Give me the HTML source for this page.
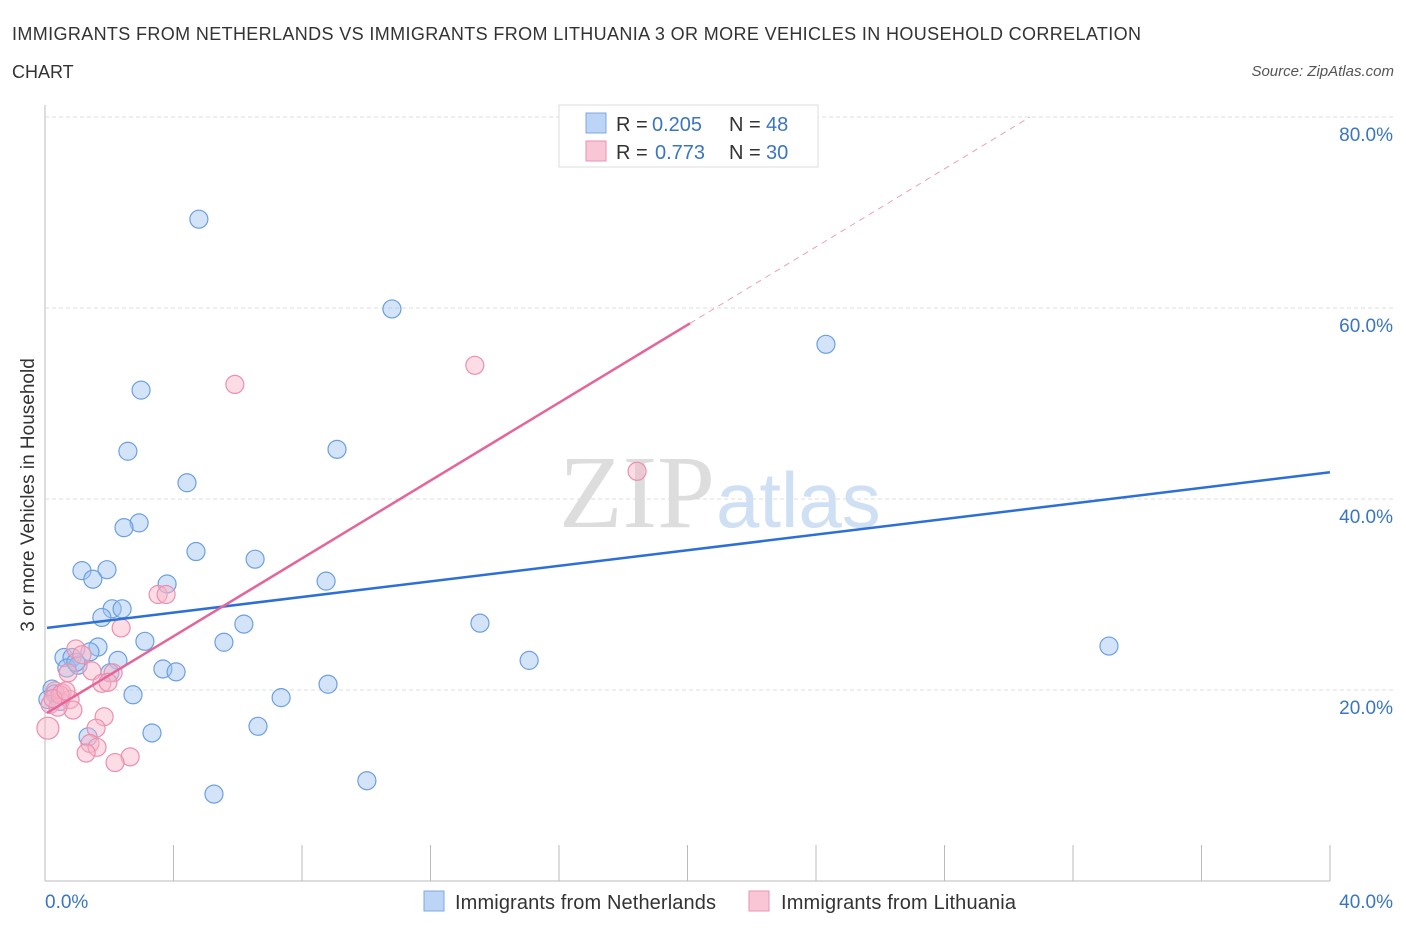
<!DOCTYPE html>
<html><head><meta charset="utf-8"><style>
body{margin:0;background:#fff;font-family:"Liberation Sans",sans-serif;}
svg{display:block}
</style></head><body>
<svg id="c" width="1406" height="930" xmlns="http://www.w3.org/2000/svg">
<text x="12" y="40" font-size="18" fill="#333" textLength="1129">IMMIGRANTS FROM NETHERLANDS VS IMMIGRANTS FROM LITHUANIA 3 OR MORE VEHICLES IN HOUSEHOLD CORRELATION</text>
<text x="12" y="78" font-size="18" fill="#333">CHART</text>
<text x="1394" y="76" font-size="15" fill="#555" font-style="italic" text-anchor="end">Source: ZipAtlas.com</text>
<g id="grid"></g>
<text x="715" y="527" font-size="104" font-family="Liberation Serif,serif" fill="#ddd" text-anchor="end">ZIP</text>
<text x="716" y="527" font-size="78" fill="#cfe0f4">atlas</text>
<g id="pts"></g>
<g id="lines"></g>
<text x="34" y="495" font-size="19" fill="#333" text-anchor="middle" transform="rotate(-90 34 495)">3 or more Vehicles in Household</text>
<text x="45" y="908" font-size="19" fill="#3a75c4">0.0%</text>
<text x="1393" y="908" font-size="19" fill="#3a75c4" text-anchor="end">40.0%</text>
<g>
<rect x="559" y="105" width="259" height="62" fill="#fff" stroke="#ddd"/>
<rect x="586" y="113" width="20" height="20" fill="#bcd4f5" stroke="#7fa8e0"/>
<rect x="586" y="141" width="20" height="20" fill="#f9c6d6" stroke="#ea92b0"/>
<text x="616" y="131" font-size="20" fill="#333">R =</text>
<text x="652" y="131" font-size="20" fill="#3a75c4">0.205</text>
<text x="729" y="131" font-size="20" fill="#333">N =</text>
<text x="766" y="131" font-size="20" fill="#3a75c4">48</text>
<text x="616" y="159" font-size="20" fill="#333">R =</text>
<text x="655" y="159" font-size="20" fill="#3a75c4">0.773</text>
<text x="729" y="159" font-size="20" fill="#333">N =</text>
<text x="766" y="159" font-size="20" fill="#3a75c4">30</text>
</g>
<g>
<rect x="424" y="891" width="20" height="20" fill="#bcd4f5" stroke="#7fa8e0"/>
<text x="455" y="909" font-size="20" fill="#333" textLength="261">Immigrants from Netherlands</text>
<rect x="749" y="891" width="20" height="20" fill="#f9c6d6" stroke="#ea92b0"/>
<text x="781" y="909" font-size="20" fill="#333" textLength="235">Immigrants from Lithuania</text>
</g>
</svg>
<script>
const yTicks=[20,40,60,80];
const yTickLabels=["20.0%","40.0%","60.0%","80.0%"];
const xTicks=[0,4,8,12,16,20,24,28,32,36,40];
const blueX=[4.79,10.80,24.31,2.99,2.58,9.09,4.42,2.93,2.46,4.70,6.54,1.15,1.93,1.49,3.80,8.75,2.09,2.40,1.77,6.19,3.11,5.57,13.54,1.65,1.40,0.59,0.84,2.27,15.07,33.12,3.67,4.08,0.68,1.03,2.02,2.74,7.35,8.81,0.22,0.31,6.63,3.33,1.34,10.02,5.26,0.09,0.47,0.96];
const blueY=[69.3,59.9,56.2,51.4,45.0,45.2,41.7,37.5,37.0,34.5,33.7,32.5,32.6,31.6,31.1,31.4,28.5,28.5,27.6,26.9,25.1,25.0,27.0,24.5,24.0,23.4,23.4,23.1,23.1,24.6,22.2,21.9,22.3,22.6,21.8,19.5,19.2,20.6,20.1,19.6,16.2,15.5,15.1,10.5,9.1,19.0,18.8,22.9];
const pinkX=[5.91,13.38,18.43,3.52,3.77,2.37,0.96,1.15,1.46,2.12,0.72,1.77,1.96,0.31,0.53,0.78,0.16,0.87,0.40,1.84,1.59,0.09,1.40,1.62,1.28,2.65,2.18,0.47,0.25,0.65];
const pinkY=[52.0,54.0,42.9,30.0,30.0,26.5,24.3,23.7,22.0,21.8,21.8,20.7,20.8,19.9,19.7,19.0,18.5,17.9,18.2,17.2,16.0,16.0,14.4,14.0,13.4,13.0,12.4,19.5,19.1,19.9];
const blueLine=[[0,26.5],[40,42.8]];
const pinkLine=[[0,17.6],[20.08,58.4]];
const pinkDash=[[20.08,58.4],[30.66,80.0]];
const X=v=>45+v*32.125, Y=v=>881-v*9.55;
const NS="http://www.w3.org/2000/svg";
function mk(t,a,p){const e=document.createElementNS(NS,t);for(const k in a)e.setAttribute(k,a[k]);p.appendChild(e);return e;}
const grid=document.getElementById('grid');
mk('line',{x1:45,y1:105,x2:45,y2:881,stroke:'#bbb'},grid);
mk('line',{x1:45,y1:881,x2:1330,y2:881,stroke:'#bbb'},grid);
yTicks.forEach((t,i)=>{
 const l=mk('line',{x1:45,y1:Y(t),x2:1394,y2:Y(t),stroke:'#ddd','stroke-dasharray':'4,3'},grid);
 
 
 const tx=mk('text',{x:1393,y:Y(t)+24,'font-size':19,fill:'#3a75c4','text-anchor':'end'},grid);
 tx.textContent=yTickLabels[i];
 
 
});
xTicks.forEach(t=>{
 const l=mk('line',{x1:X(t),y1:845,x2:X(t),y2:881,stroke:'#bbb'},grid);
 
 
});
const pts=document.getElementById('pts');
blueX.forEach((x,i)=>{
 const c=mk('circle',{cx:X(x),cy:Y(blueY[i]),r:9,fill:'rgba(160,195,240,0.45)',stroke:'#6c9fe0','stroke-width':1.2},pts);
 
 
});
pinkX.forEach((x,i)=>{
 const c=mk('circle',{cx:X(x),cy:Y(pinkY[i]),r:i==21?11:9,fill:'rgba(248,180,200,0.45)',stroke:'#ec8fae','stroke-width':1.2},pts);
 
 
});
const lg=document.getElementById('lines');
const b=mk('line',{x1:X(blueLine[0][0])+2,y1:Y(blueLine[0][1]),x2:X(blueLine[1][0]),y2:Y(blueLine[1][1]),stroke:'#2c6fd6','stroke-width':2.5},lg);


const p=mk('line',{x1:X(pinkLine[0][0])+2,y1:Y(pinkLine[0][1]),x2:X(pinkLine[1][0]),y2:Y(pinkLine[1][1]),stroke:'#e5659a','stroke-width':2.5},lg);


const d=mk('line',{x1:X(pinkDash[0][0]),y1:Y(pinkDash[0][1]),x2:X(pinkDash[1][0]),y2:Y(pinkDash[1][1]),stroke:'#eaa0bd','stroke-width':1,'stroke-dasharray':'6,5'},lg);


</script>
</body></html>
